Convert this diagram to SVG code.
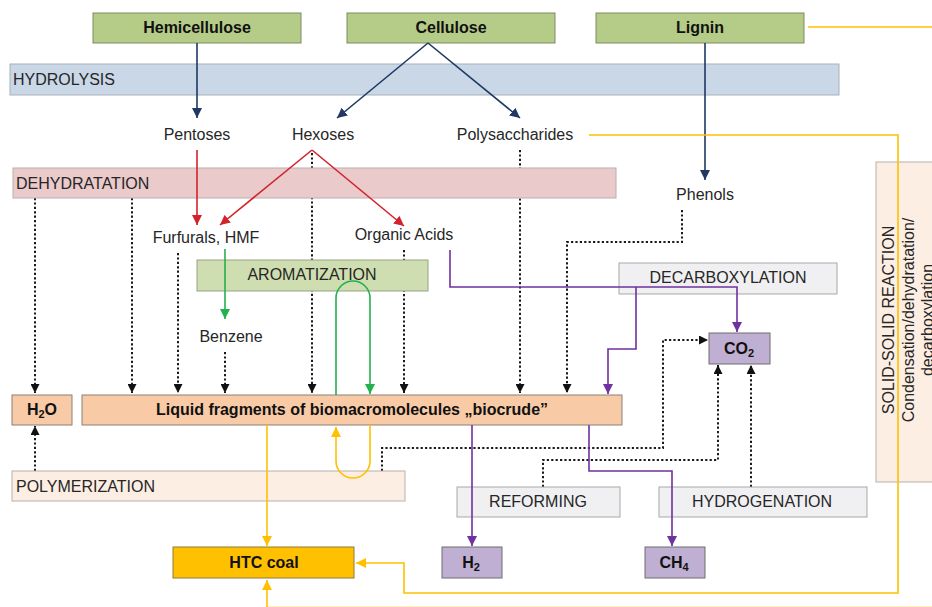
<svg xmlns="http://www.w3.org/2000/svg" width="932" height="607" viewBox="0 0 932 607">
<defs>
<style>
text{font-family:"Liberation Sans",Arial,sans-serif;font-size:16px;fill:#262626}
.b{font-weight:bold;fill:#111}
.c{text-anchor:middle}
.box{stroke:#8c8c8c;stroke-width:1}
.green{fill:#b5cb88;stroke:#7e8c62}
.hyd{fill:#c9d7e6;stroke:#a9b1bb}
.deh{fill:#eacaca;stroke:#b9b0b0}
.aro{fill:#cfdeb0;stroke:#98a286}
.peach{fill:#f8cba6;stroke:#8a8078}
.lpeach{fill:#fdeee3;stroke:#b7b0aa}
.grey{fill:#f0f0f2;stroke:#a8a8a8}
.purp{fill:#bfafd2;stroke:#6f6f6f}
.htc{fill:#ffc000;stroke:#8f7b3a}
.dot{fill:none;stroke:#1a1a1a;stroke-width:2;stroke-dasharray:2.2,2.2}
.navy{fill:none;stroke:#1f3864;stroke-width:1.6}
.red{fill:none;stroke:#d2232a;stroke-width:1.6}
.grn{fill:none;stroke:#22b14c;stroke-width:1.6}
.pur{fill:none;stroke:#7030a0;stroke-width:1.6}
.yel{fill:none;stroke:#ffc000;stroke-width:1.6}
</style>
<marker id="aK" viewBox="0 0 10 10" refX="10" refY="5" markerWidth="9" markerHeight="9" markerUnits="userSpaceOnUse" orient="auto"><path d="M0,0L10,5L0,10z" fill="#111"/></marker>
<marker id="aN" viewBox="0 0 10 10" refX="10" refY="5" markerWidth="10" markerHeight="10" markerUnits="userSpaceOnUse" orient="auto"><path d="M0,0L10,5L0,10z" fill="#1f3864"/></marker>
<marker id="aR" viewBox="0 0 10 10" refX="10" refY="5" markerWidth="10" markerHeight="10" markerUnits="userSpaceOnUse" orient="auto"><path d="M0,0L10,5L0,10z" fill="#d2232a"/></marker>
<marker id="aG" viewBox="0 0 10 10" refX="10" refY="5" markerWidth="10" markerHeight="10" markerUnits="userSpaceOnUse" orient="auto"><path d="M0,0L10,5L0,10z" fill="#22b14c"/></marker>
<marker id="aP" viewBox="0 0 10 10" refX="10" refY="5" markerWidth="10" markerHeight="10" markerUnits="userSpaceOnUse" orient="auto"><path d="M0,0L10,5L0,10z" fill="#7030a0"/></marker>
<marker id="aY" viewBox="0 0 10 10" refX="10" refY="5" markerWidth="10" markerHeight="10" markerUnits="userSpaceOnUse" orient="auto"><path d="M0,0L10,5L0,10z" fill="#ffc000"/></marker>
</defs>
<rect width="932" height="607" fill="#fff"/>

<g id="connectors-dotted">
<path class="dot" d="M35,198V393" marker-end="url(#aK)"/>
<path class="dot" d="M132,198V393" marker-end="url(#aK)"/>
<path class="dot" d="M178,253V393" marker-end="url(#aK)"/>
<path class="dot" d="M225,352V393" marker-end="url(#aK)"/>
<path class="dot" d="M312,153V393" marker-end="url(#aK)"/>
<path class="dot" d="M404,250V393" marker-end="url(#aK)"/>
<path class="dot" d="M520,150V393" marker-end="url(#aK)"/>
<path class="dot" d="M682,210V242H567V393" marker-end="url(#aK)"/>
<path class="dot" d="M35,471V426" marker-end="url(#aK)"/>
<path class="dot" d="M382,471V448H663V340H708" marker-end="url(#aK)"/>
<path class="dot" d="M543,487V460H718V365" marker-end="url(#aK)"/>
<path class="dot" d="M751,487V365" marker-end="url(#aK)"/>
</g>

<g id="hemicellulose"><rect class="box green" x="93" y="13" width="208" height="30"/><text class="b c" x="197" y="33">Hemicellulose</text></g>
<g id="cellulose"><rect class="box green" x="347" y="13" width="208" height="30"/><text class="b c" x="451" y="33">Cellulose</text></g>
<g id="lignin"><rect class="box green" x="596" y="13" width="208" height="30"/><text class="b c" x="700" y="33">Lignin</text></g>
<g id="hydrolysis"><rect class="box hyd" x="10" y="64" width="829" height="31"/><text x="13" y="85">HYDROLYSIS</text></g>
<g id="pentoses"><text class="c" x="197" y="140">Pentoses</text></g>
<g id="hexoses"><text class="c" x="323" y="140">Hexoses</text></g>
<g id="polysaccharides"><text class="c" x="515" y="140">Polysaccharides</text></g>
<g id="phenols"><text class="c" x="705" y="200">Phenols</text></g>
<g id="dehydratation"><rect class="box deh" x="13" y="168" width="603" height="30"/><text x="16" y="189">DEHYDRATATION</text></g>
<g id="furfurals"><text class="c" x="206" y="243">Furfurals, HMF</text></g>
<g id="organic-acids"><text class="c" x="404" y="240">Organic Acids</text></g>
<g id="aromatization"><rect class="box aro" x="197" y="260" width="231" height="31"/><text class="c" x="312" y="280">AROMATIZATION</text></g>
<g id="benzene"><text class="c" x="231" y="342">Benzene</text></g>
<g id="decarboxylation"><rect class="box grey" x="619" y="263" width="218" height="31"/><text class="c" x="728" y="283">DECARBOXYLATION</text></g>
<g id="co2"><rect class="box purp" x="709" y="333" width="61" height="31"/><text class="b c" x="739" y="354">CO<tspan font-size="11" dy="3">2</tspan></text></g>
<g id="h2o"><rect class="box peach" x="12" y="395" width="60" height="30"/><text class="b c" x="42" y="415">H<tspan font-size="11" dy="3">2</tspan><tspan dy="-3">O</tspan></text></g>
<g id="biocrude"><rect class="box peach" x="82" y="395" width="540" height="30"/><text class="b c" x="352" y="415">Liquid fragments of biomacromolecules „biocrude”</text></g>
<g id="polymerization"><rect class="box lpeach" x="12" y="471" width="393" height="30"/><text x="16" y="492">POLYMERIZATION</text></g>
<g id="reforming"><rect class="box grey" x="457" y="487" width="163" height="30"/><text class="c" x="538" y="507">REFORMING</text></g>
<g id="hydrogenation"><rect class="box grey" x="659" y="487" width="208" height="30"/><text class="c" x="762" y="507">HYDROGENATION</text></g>
<g id="htc-coal"><rect class="box htc" x="173" y="547" width="181" height="31"/><text class="b c" x="264" y="568">HTC coal</text></g>
<g id="h2"><rect class="box purp" x="442" y="547" width="60" height="31"/><text class="b c" x="471" y="568">H<tspan font-size="11" dy="3">2</tspan></text></g>
<g id="ch4"><rect class="box purp" x="645" y="547" width="60" height="31"/><text class="b c" x="674" y="568">CH<tspan font-size="11" dy="3">4</tspan></text></g>
<g id="solid-solid"><rect class="box lpeach" x="876" y="162" width="60" height="320"/>
<text class="c" transform="translate(894,320) rotate(-90)">SOLID-SOLID REACTION</text>
<text class="c" transform="translate(914,320) rotate(-90)">Condensation/dehydratation/</text>
<text class="c" transform="translate(933,320) rotate(-90)">decarboxylation</text></g>

<g id="connectors">
<path class="navy" d="M197,43V118" marker-end="url(#aN)"/>
<path class="navy" d="M428,43L337,118" marker-end="url(#aN)"/>
<path class="navy" d="M428,43L520,118" marker-end="url(#aN)"/>
<path class="navy" d="M705,43V180" marker-end="url(#aN)"/>
<path class="red" d="M197,150V225" marker-end="url(#aR)"/>
<path class="red" d="M312,150L220,225" marker-end="url(#aR)"/>
<path class="red" d="M312,150L404,226" marker-end="url(#aR)"/>
<path class="grn" d="M225,249V319" marker-end="url(#aG)"/>
<path class="grn" d="M336,395V298A17,17 0 0 1 370,298V394" marker-end="url(#aG)"/>
<path class="pur" d="M450,250V287H737V332" marker-end="url(#aP)"/>
<path class="pur" d="M636,287V349H608V394" marker-end="url(#aP)"/>
<path class="pur" d="M472,425V546" marker-end="url(#aP)"/>
<path class="pur" d="M589,425V471H672V546" marker-end="url(#aP)"/>
<path class="yel" d="M808,27H932"/>
<path class="yel" d="M589,135H898V593H404V563H356" marker-end="url(#aY)"/>
<path class="yel" d="M267,425V546" marker-end="url(#aY)"/>
<path class="yel" d="M370,425V461A17,17 0 0 1 336,461V427" marker-end="url(#aY)"/>
<path class="yel" d="M267,607V580" marker-end="url(#aY)"/>
<path d="M267,606.5H932" fill="none" stroke="#ffc000" stroke-width="1" opacity="0.25"/>
</g>
</svg>
